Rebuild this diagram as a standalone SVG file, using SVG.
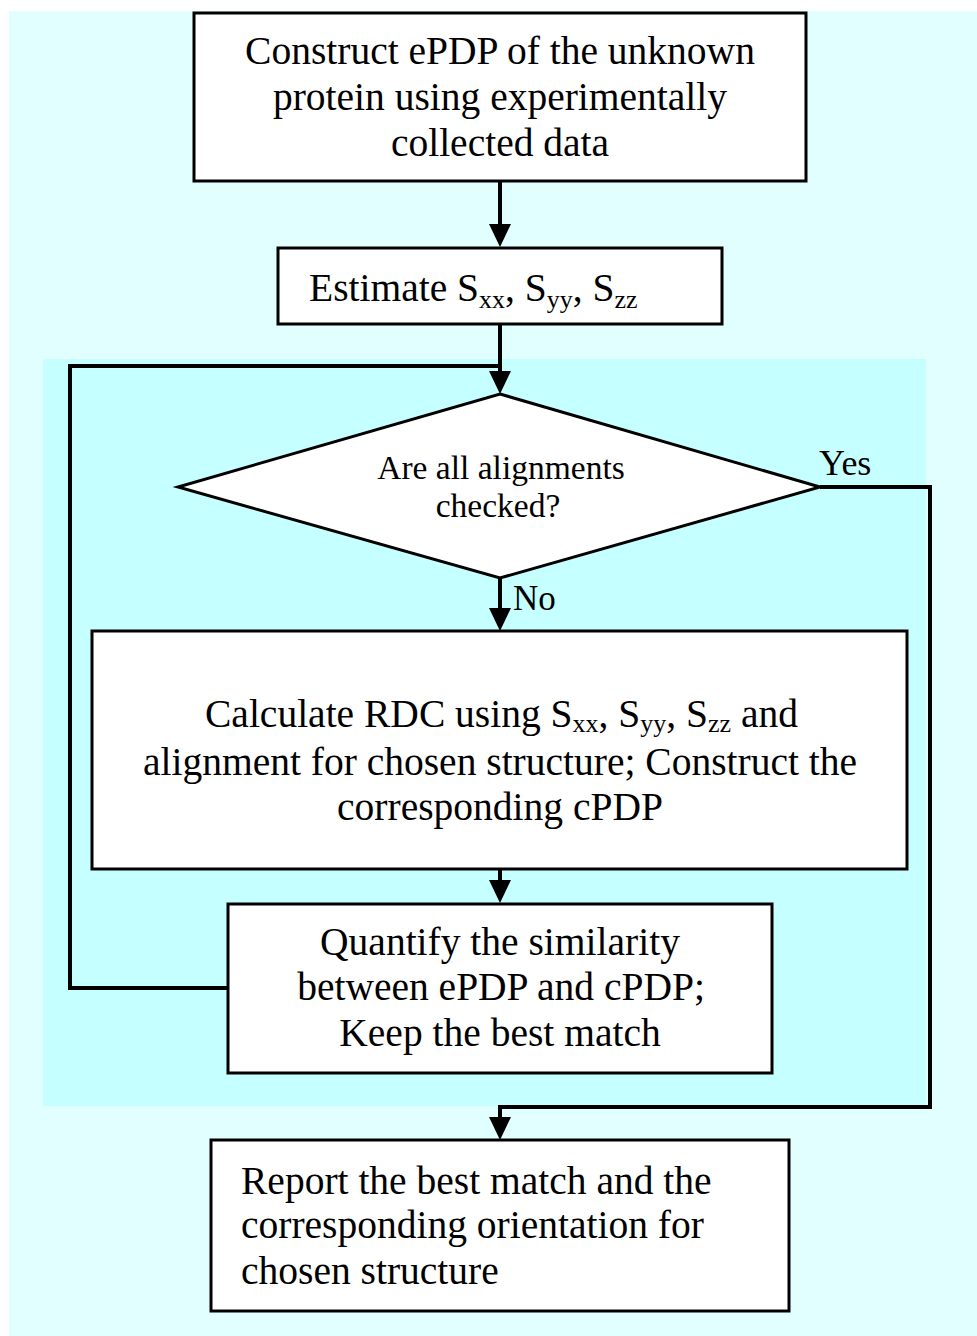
<svg xmlns="http://www.w3.org/2000/svg" width="977" height="1336" viewBox="0 0 977 1336">
  <style>
    .box { fill: #ffffff; stroke: #000000; stroke-width: 3; }
    .t { font-family: "Liberation Serif", "Times New Roman", serif; font-size: 39.5px; fill: #000000; }
    .c { text-anchor: middle; }
    .d { font-family: "Liberation Serif", "Times New Roman", serif; font-size: 33.5px; fill: #000000; text-anchor: middle; }
    .sub { font-size: 26px; }
    .conn { fill: none; stroke: #000000; stroke-width: 4; stroke-linejoin: miter; }
  </style>
  <defs>
    <marker id="arrow" markerUnits="userSpaceOnUse" markerWidth="24" markerHeight="24" refX="11" refY="11" orient="auto" viewBox="0 0 24 24">
      <path d="M0,0 L23,11 L0,22 Z" fill="#000000"/>
    </marker>
  </defs>

  <!-- backgrounds -->
  <rect x="9" y="11" width="968" height="1325" fill="#E1FFFF"/>
  <rect x="43" y="359" width="883" height="747" fill="#C6FFFF"/>

  <g id="connectors">
    <path class="conn" d="M500,181 V235" marker-end="url(#arrow)"/>
    <path class="conn" d="M500,324 V382" marker-end="url(#arrow)"/>
    <path class="conn" d="M228,988 H70 V366 H500"/>
    <path class="conn" d="M500,578 V619" marker-end="url(#arrow)"/>
    <path class="conn" d="M500,869 V891" marker-end="url(#arrow)"/>
    <path class="conn" d="M820,487 H930 V1107 H500 V1128" marker-end="url(#arrow)"/>
    <text class="t" x="819" y="475" style="font-size:36px">Yes</text>
    <text class="t" x="513" y="610" style="font-size:35px">No</text>
  </g>

  <g id="construct">
    <rect class="box" x="194" y="13" width="612" height="168"/>
    <text class="t c" x="500" y="64">Construct ePDP of the unknown</text>
    <text class="t c" x="500" y="110">protein using experimentally</text>
    <text class="t c" x="500" y="156">collected data</text>
  </g>

  <g id="estimate">
    <rect class="box" x="278" y="248" width="444" height="76"/>
    <text class="t" x="309" y="301">Estimate S<tspan class="sub" dy="7">xx</tspan><tspan dy="-7">, S</tspan><tspan class="sub" dy="7">yy</tspan><tspan dy="-7">, S</tspan><tspan class="sub" dy="7">zz</tspan></text>
  </g>

  <g id="decision">
    <polygon points="500,394 820,487 500,578 178,487" fill="#ffffff" stroke="#000000" stroke-width="3"/>
    <text class="d" x="501" y="479">Are all alignments</text>
    <text class="d" x="498" y="517">checked?</text>
  </g>

  <g id="calculate">
    <rect class="box" x="92" y="631" width="815" height="238"/>
    <text class="t" x="205" y="727">Calculate RDC using S<tspan class="sub" dy="5">xx</tspan><tspan dy="-5">, S</tspan><tspan class="sub" dy="5">yy</tspan><tspan dy="-5">, S</tspan><tspan class="sub" dy="5">zz</tspan><tspan dy="-5"> and</tspan></text>
    <text class="t c" x="500" y="775">alignment for chosen structure; Construct the</text>
    <text class="t c" x="500" y="820">corresponding cPDP</text>
  </g>

  <g id="quantify">
    <rect class="box" x="228" y="904" width="544" height="169"/>
    <text class="t c" x="500" y="955">Quantify the similarity</text>
    <text class="t c" x="501" y="1000">between ePDP and cPDP;</text>
    <text class="t c" x="500" y="1046">Keep the best match</text>
  </g>

  <g id="report">
    <rect class="box" x="211" y="1140" width="578" height="171"/>
    <text class="t" x="241" y="1194">Report the best match and the</text>
    <text class="t" x="241" y="1238">corresponding orientation for</text>
    <text class="t" x="241" y="1284">chosen structure</text>
  </g>
</svg>
